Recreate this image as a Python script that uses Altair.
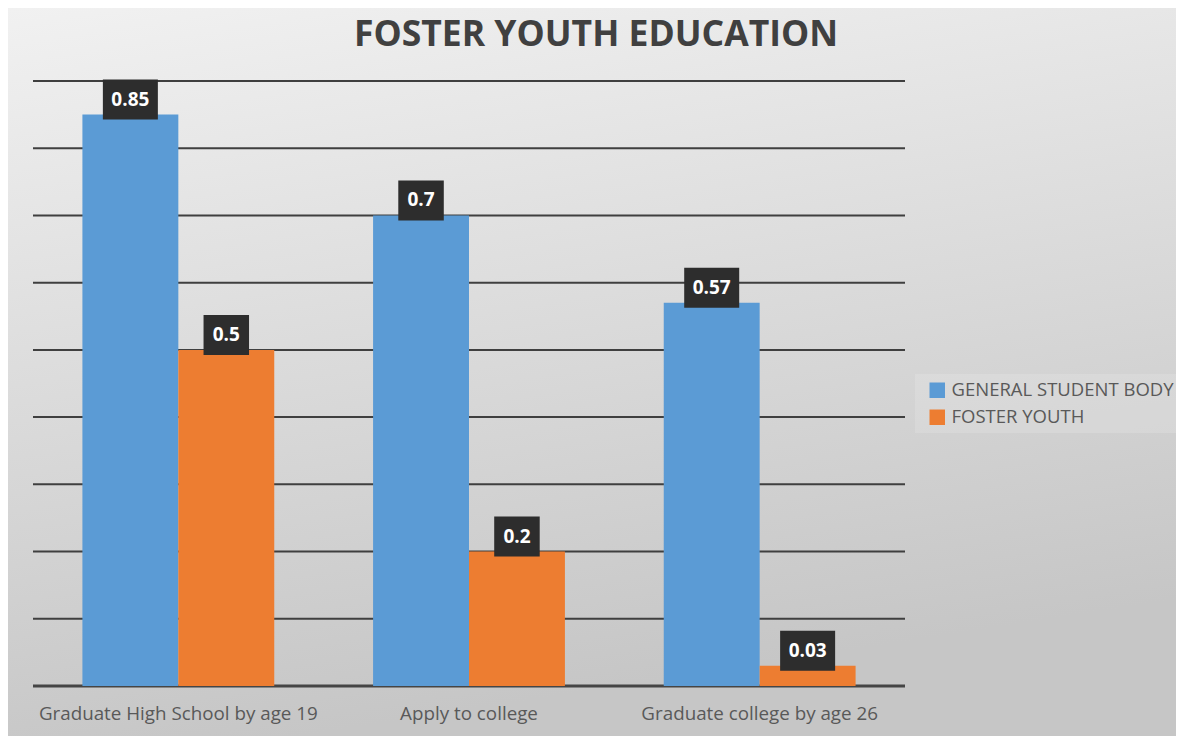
import altair as alt
import pandas as pd

categories = ["Graduate High School by age 19", "Apply to college", "Graduate college by age 26"]
series = ["GENERAL STUDENT BODY", "FOSTER YOUTH"]
general_values = [0.85, 0.7, 0.57]
foster_values = [0.5, 0.2, 0.03]
grid_values = [0.1, 0.2, 0.3, 0.4, 0.5, 0.6, 0.7, 0.8, 0.9]
colors = ["#5B9BD5", "#ED7D31"]

rows = []
for c, g, f in zip(categories, general_values, foster_values):
    rows.append({"category": c, "series": series[0], "value": g})
    rows.append({"category": c, "series": series[1], "value": f})
df = pd.DataFrame(rows)
grid_df = pd.DataFrame({"v": grid_values})
base_df = pd.DataFrame({"v": [0]})
one = pd.DataFrame({"a": [0]})

W, H = 872, 605
FONT = "Open Sans"

yscale = alt.Scale(domain=[0, 0.9], nice=False, zero=True)
x_enc = alt.X(
    "category:N", sort=categories,
    scale=alt.Scale(paddingInner=0.34, paddingOuter=0.17),
    axis=alt.Axis(title=None, labelAngle=0, domain=False, ticks=False,
                  labelPadding=18, labelFont=FONT, labelFontSize=18.8,
                  labelColor="#595959", zindex=1, labelLimit=400),
)
xoff = alt.XOffset("series:N", sort=series, scale=alt.Scale(paddingInner=0, paddingOuter=0))

bg = alt.Chart(one).mark_rect(
    fill=alt.Gradient(
        gradient="linear",
        stops=[alt.GradientStop(color="#f1f1f1", offset=0),
               alt.GradientStop(color="#c6c6c6", offset=1)],
        x1=0, y1=0, x2=0.25, y2=1,
    ),
    clip=False,
).encode(x=alt.value(-25), x2=alt.value(W + 271), y=alt.value(-73), y2=alt.value(H + 50))

band = alt.Chart(one).mark_rect(fill="white", opacity=0.15, clip=False).encode(
    x=alt.value(882), x2=alt.value(W + 271), y=alt.value(293), y2=alt.value(352)
)

grid = alt.Chart(grid_df).mark_rule(color="#3f3f3f", strokeWidth=2).encode(
    y=alt.Y("v:Q", scale=yscale, axis=None)
)
baseline = alt.Chart(base_df).mark_rule(color="#454545", strokeWidth=3).encode(
    y=alt.Y("v:Q", scale=yscale, axis=None)
)

bars = alt.Chart(df).mark_bar().encode(
    x=x_enc,
    xOffset=xoff,
    y=alt.Y("value:Q", scale=yscale, axis=None, stack=None),
    color=alt.Color(
        "series:N", sort=series,
        scale=alt.Scale(domain=series, range=colors),
        legend=alt.Legend(
            title=None, orient="none", legendX=895, legendY=300,
            symbolType="square", symbolSize=240, symbolStrokeWidth=0,
            labelFont=FONT, labelFontSize=18.5, labelColor="#595959",
            rowPadding=8, labelOffset=5, padding=0, labelLimit=400,
        ),
    ),
)

boxes = alt.Chart(df).transform_calculate(
    bw="length(toString(datum.value)) * 9.5 + 17"
).mark_bar(color="#2d2d2d", yOffset=-35, y2Offset=5).encode(
    x=x_enc,
    xOffset=xoff,
    y=alt.Y("value:Q", scale=yscale, axis=None),
    y2=alt.Y2("value:Q"),
    size=alt.Size("bw:Q", scale=None, legend=None),
)

labels = alt.Chart(df).mark_text(
    dy=-15, color="white", font=FONT, fontWeight="bold", fontSize=19, baseline="middle"
).encode(
    x=x_enc,
    xOffset=xoff,
    y=alt.Y("value:Q", scale=yscale, axis=None),
    text=alt.Text("value:Q"),
)

title = alt.Chart(one).mark_text(
    text="FOSTER YOUTH EDUCATION", font=FONT, fontWeight="bold", fontSize=35.5,
    color="#404040", baseline="middle", align="center", clip=False,
).encode(x=alt.value(563), y=alt.value(-46))

chart = alt.layer(bg, band, grid, baseline, bars, boxes, labels, title).properties(
    width=W, height=H,
    padding={"left": 25, "top": 73, "right": 271, "bottom": 50},
    autosize=alt.AutoSizeParams(type="none"),
    background="#dcdcdc",
).configure_view(stroke=None)

chart.save("out.html", embed_options={"renderer": "svg", "actions": False})
